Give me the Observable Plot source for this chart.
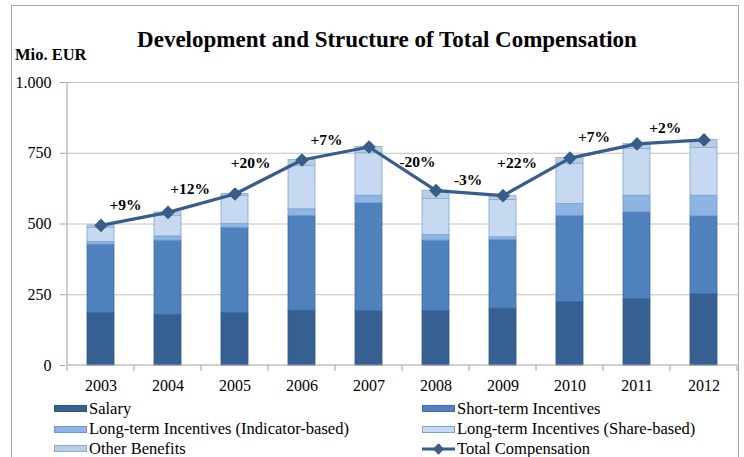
<!DOCTYPE html>
<html>
<head>
<meta charset="utf-8">
<script src="https://cdn.jsdelivr.net/npm/d3@7"></script>
<script src="https://cdn.jsdelivr.net/npm/@observablehq/plot@0.6"></script>
<style>
  body { margin: 0; background: #fff; }
  #wrap { position: relative; width: 744px; height: 457px; overflow: hidden;
          font-family: "Liberation Serif", "Times New Roman", serif; color: #000; }
  #frame { position: absolute; left: 11px; top: 5px; width: 728px; height: 480px;
           border: 1px solid #a6a6a6; box-sizing: border-box; pointer-events: none; }
  #chart { position: absolute; left: 0; top: 0; }
  #chart svg text { font-family: "Liberation Serif", "Times New Roman", serif; }
  #title { position: absolute; left: 0; top: 27px; width: 774px; text-align: center;
           font-size: 23px; font-weight: bold; line-height: 26px; white-space: nowrap; }
  #unit { position: absolute; left: 15px; top: 45px; font-size: 16.5px; font-weight: bold;
          line-height: 20px; }
  .leg { position: absolute; font-size: 16.5px; line-height: 16px; height: 16px; white-space: nowrap;
         display: flex; align-items: center; }
  .sw { width: 33px; height: 7px; box-sizing: border-box; margin-right: 2px; }
</style>
</head>
<body>
<div id="wrap">
  <div id="chart"></div>
  <div id="frame"></div>
  <div id="title">Development and Structure of Total Compensation</div>
  <div id="unit">Mio. EUR</div>
  <div id="legend"></div>
</div>
<script>
// ---- data (Mio. EUR) ----
const years = ["2003","2004","2005","2006","2007","2008","2009","2010","2011","2012"];
const seriesNames = ["Salary", "Short-term Incentives", "Long-term Incentives (Indicator-based)",
                     "Long-term Incentives (Share-based)", "Other Benefits"];
const salary       = [186, 179, 186, 194, 192, 192, 201, 224, 235, 252];
const shortTerm    = [241, 262, 300, 334, 381, 249, 242, 304, 306, 275];
const ltiIndicator = [ 10,  15,  14,  24,  27,  20,  10,  43,  59,  73];
const ltiShare     = [ 50,  73, 100, 154, 150, 127, 132, 142, 165, 169];
const otherBen     = [  8,  12,   6,  20,  22,  30,  15,  20,  18,  28];
const totalComp    = [495, 541, 606, 726, 772, 618, 600, 733, 783, 797];
const changeLabels = ["+9%", "+12%", "+20%", "+7%", "-20%", "-3%", "+22%", "+7%", "+2%"];
const yTicks = [0, 250, 500, 750, 1000];
const yTickLabels = ["0", "250", "500", "750", "1.000"];

// ---- styles ----
const fills   = ["#376092", "#4f81bd", "#8eb4e3", "#c6d9f1", "#b9cde5"];
const strokes = ["#2f5582", "#3f6fa8", "#6f97c9", "#7fa3cf", "#8eaad0"];
const lineColor = "#385d8a";
const serif = "'Liberation Serif', 'Times New Roman', serif";

const seriesValues = [salary, shortTerm, ltiIndicator, ltiShare, otherBen];
const rows = years.flatMap((yr, i) =>
  seriesNames.map((s, j) => ({year: yr, series: s, value: seriesValues[j][i], k: j})));
const totals = years.map((yr, i) => ({year: yr, total: totalComp[i]}));
const changes = changeLabels.map((lab, i) => ({
  year: years[i + 1], label: lab,
  mid: (totalComp[i] + totalComp[i + 1]) / 2,
  delta: totalComp[i + 1] - totalComp[i]
}));

// custom mark: axis lines + category boundary tick marks (Excel style)
const axisFrame = (index, scales) => {
  const x = scales.x, y = scales.y;
  const step = x.step(), bw = x.bandwidth();
  const g = d3.create("svg:g").attr("stroke", "#a0a0a0").attr("stroke-width", 1);
  const y0 = y(0), yTop = y(1000);
  const left = x(years[0]) + bw / 2 - step / 2;
  const right = x(years[years.length - 1]) + bw / 2 + step / 2;
  g.append("line").attr("x1", left).attr("x2", left).attr("y1", yTop).attr("y2", y0);
  g.append("line").attr("x1", left).attr("x2", right).attr("y1", y0).attr("y2", y0);
  const bounds = years.map(yr => x(yr) + bw / 2 - step / 2).concat([right]);
  for (const b of bounds) {
    g.append("line").attr("x1", b).attr("x2", b).attr("y1", y0).attr("y2", y0 + 6);
  }
  return g.node();
};

// change labels sit above the segment between two years, nudged away from the line
const labelMarks = changes.map(c => Plot.text([c], {
  x: "year", y: "mid", text: "label",
  dx: -34 - 0.12 * c.delta - 3,
  dy: -14 - (c.delta < 0 ? 0.05 * c.delta : 0),
  fontSize: 15.5, fontWeight: "bold", fill: "#000", fontFamily: serif
}));

const chart = Plot.plot({
  width: 744,
  height: 457,
  marginTop: 82,
  marginBottom: 92,
  marginLeft: 65,
  marginRight: 5,
  style: "font-family: 'Liberation Serif', 'Times New Roman', serif; font-size: 16px; color: #000; background: transparent;",
  x: {type: "band", domain: years, paddingInner: 0.6, paddingOuter: 0.3, label: null},
  y: {domain: [0, 1000], label: null},
  color: {type: "identity"},
  marks: [
    Plot.gridY(yTicks.filter(d => d > 0), {stroke: "#c0c0c0", strokeOpacity: 1, strokeWidth: 1}),
    Plot.barY(rows, {
      x: "year", y: "value",
      fill: d => fills[d.k], stroke: d => strokes[d.k], strokeWidth: 0.8
    }),
    axisFrame,
    Plot.axisY({
      ticks: yTicks, tickFormat: d => yTickLabels[yTicks.indexOf(d)],
      tickSize: 5, tickPadding: 9, fontSize: 16, stroke: "#a0a0a0", fill: "#000",
      fontFamily: serif, label: null
    }),
    Plot.axisX({tickSize: 0, tickPadding: 14, fontSize: 16, fill: "#000", fontFamily: serif, label: null}),
    Plot.line(totals, {x: "year", y: "total", stroke: lineColor, strokeWidth: 3.2}),
    Plot.dot(totals, {x: "year", y: "total", symbol: "square", rotate: 45, r: 4.6,
                      fill: lineColor, stroke: lineColor}),
    ...labelMarks
  ]
});
document.getElementById("chart").appendChild(chart);

// ---- legend ----
const legendItems = [
  {name: seriesNames[0], k: 0, col: 0, row: 0},
  {name: seriesNames[1], k: 1, col: 1, row: 0},
  {name: seriesNames[2], k: 2, col: 0, row: 1},
  {name: seriesNames[3], k: 3, col: 1, row: 1},
  {name: seriesNames[4], k: 4, col: 0, row: 2},
  {name: "Total Compensation", k: -1, col: 1, row: 2}
];
const colX = [54, 422];
const rowY = [400.5, 421, 440.5];
const legend = document.getElementById("legend");
for (const it of legendItems) {
  const div = document.createElement("div");
  div.className = "leg";
  div.style.left = colX[it.col] + "px";
  div.style.top = rowY[it.row] + "px";
  if (it.k >= 0) {
    const sw = document.createElement("div");
    sw.className = "sw";
    sw.style.background = fills[it.k];
    sw.style.border = "1px solid " + strokes[it.k];
    div.appendChild(sw);
  } else {
    const svg = d3.create("svg").attr("width", 33).attr("height", 12).style("margin-right", "2px");
    svg.append("line").attr("x1", 0).attr("x2", 33).attr("y1", 6).attr("y2", 6)
       .attr("stroke", lineColor).attr("stroke-width", 3.2);
    svg.append("rect").attr("x", 12.5).attr("y", 2).attr("width", 8).attr("height", 8)
       .attr("fill", lineColor).attr("transform", "rotate(45 16.5 6)");
    div.appendChild(svg.node());
  }
  const t = document.createElement("span");
  t.textContent = it.name;
  div.appendChild(t);
  legend.appendChild(div);
}
</script>
</body>
</html>
